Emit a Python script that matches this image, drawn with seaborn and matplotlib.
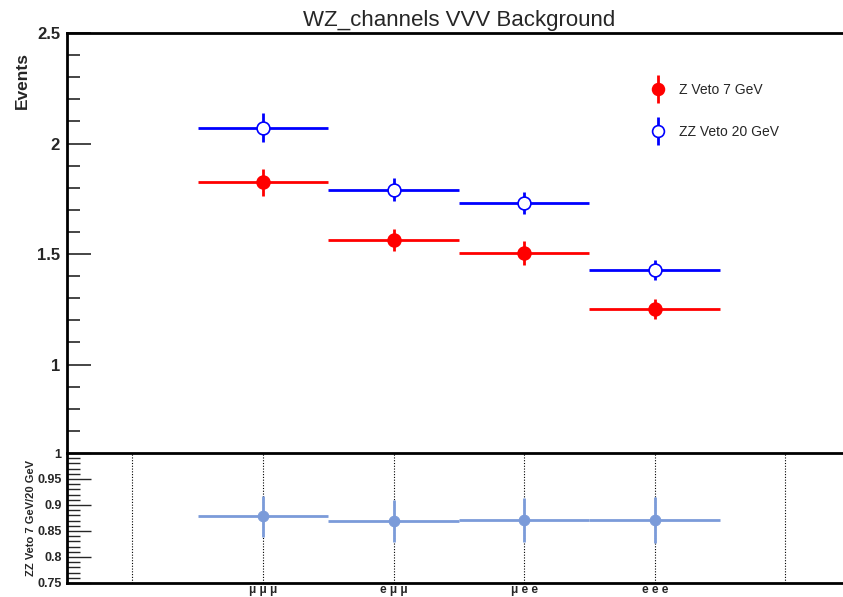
import numpy as np
import pandas as pd
import matplotlib
matplotlib.use("Agg")
import matplotlib.pyplot as plt
from matplotlib.lines import Line2D
from matplotlib.legend_handler import HandlerTuple
import seaborn as sns

channels = ["\u03bc \u03bc \u03bc", "e \u03bc \u03bc", "\u03bc e e", "e e e"]
bins = [1, 2, 3, 4]
zveto7 = [1.825, 1.565, 1.505, 1.250]
zveto7_err = [0.062, 0.050, 0.055, 0.045]
zzveto20 = [2.072, 1.790, 1.730, 1.428]
zzveto20_err = [0.065, 0.052, 0.050, 0.045]
ratio = [0.878, 0.869, 0.871, 0.871]
ratio_err = [0.040, 0.040, 0.042, 0.045]

sns.set_style("white")
plt.rcParams["font.family"] = ["Liberation Sans", "DejaVu Sans"]

fig = plt.figure(figsize=(8.43, 5.97), dpi=100)
ax = fig.add_axes([0.0795, 0.2412, 0.9295, 0.7035])
axr = fig.add_axes([0.0795, 0.0235, 0.9295, 0.2177])

red = "#ff0000"
blue = "#0000ff"
lblue = "#7b9bd9"

df = pd.DataFrame({"bin": bins * 2,
                   "val": zveto7 + zzveto20,
                   "err": zveto7_err + zzveto20_err,
                   "sample": ["Z Veto 7 GeV"] * 4 + ["ZZ Veto 20 GeV"] * 4})

handles = []
for name, col, face in [("Z Veto 7 GeV", red, red), ("ZZ Veto 20 GeV", blue, "white")]:
    d = df[df["sample"] == name]
    ax.errorbar(d["bin"], d["val"], xerr=0.5, yerr=d["err"], fmt="none",
                ecolor=col, elinewidth=2.0, capsize=0, zorder=2)
    sns.scatterplot(x="bin", y="val", data=d, ax=ax, color=face, edgecolor=col,
                    linewidth=1.2, s=85, zorder=3, legend=False)
    bar = Line2D([], [], marker="|", ms=20, mew=2.0, color=col, ls="none")
    dot = Line2D([], [], marker="o", ms=8.5, mfc=face, mec=col, mew=1.2, ls="none")
    handles.append((bar, dot))

ax.legend(handles, ["Z Veto 7 GeV", "ZZ Veto 20 GeV"], loc="upper left",
          handler_map={tuple: HandlerTuple(ndivide=1)},
          bbox_to_anchor=(0.73, 0.91), frameon=False, fontsize=10,
          labelspacing=2.0, handlelength=1.0, handletextpad=1.0)

ax.set_xlim(-0.5, 5.5)
ax.set_ylim(0.6, 2.5)
ax.set_yticks([1, 1.5, 2, 2.5])
ax.set_yticklabels(["1", "1.5", "2", "2.5"], fontweight="bold", fontsize=12)
ax.set_yticks(np.arange(0.7, 2.5, 0.1), minor=True)
ax.set_xticks([])
ax.tick_params(axis="y", which="major", direction="in", length=17, width=1.2, pad=5, left=True)
ax.tick_params(axis="y", which="minor", direction="in", length=9, width=1.2, left=True)
for s in ["right", "bottom"]:
    ax.spines[s].set_visible(False)
for s in ["top", "left"]:
    ax.spines[s].set_linewidth(2)
    ax.spines[s].set_color("black")
ax.set_ylabel("Events", fontweight="bold", fontsize=12.5, ha="right")
ax.yaxis.set_label_coords(-0.048, 0.955)
ax.set_xlabel("")
ax.set_title("WZ_channels VVV Background", fontsize=16, pad=5)

# ratio panel
dr = pd.DataFrame({"bin": bins, "ratio": ratio, "err": ratio_err})
axr.errorbar(dr["bin"], dr["ratio"], xerr=0.5, yerr=dr["err"], fmt="none",
             ecolor=lblue, elinewidth=2.0, capsize=0, zorder=2)
sns.scatterplot(x="bin", y="ratio", data=dr, ax=axr, color=lblue, edgecolor=lblue,
                s=60, zorder=3, legend=False)
for xg in range(0, 6):
    axr.axvline(xg, color="black", ls=(0, (1, 1.5)), lw=0.8, zorder=1)
axr.set_xlim(-0.5, 5.5)
axr.set_ylim(0.75, 1.0)
axr.set_yticks([0.75, 0.8, 0.85, 0.9, 0.95, 1.0])
axr.set_yticklabels(["0.75", "0.8", "0.85", "0.9", "0.95", "1"], fontweight="bold", fontsize=9)
axr.set_yticks(np.arange(0.76, 1.0, 0.01), minor=True)
axr.tick_params(axis="y", which="major", direction="in", length=17, width=1.0, pad=4, left=True)
axr.tick_params(axis="y", which="minor", direction="in", length=9, width=1.0, left=True)
axr.set_xticks(bins)
axr.set_xticklabels(channels, fontsize=8.5, fontweight="bold")
axr.tick_params(axis="x", length=0, pad=0.5)
axr.spines["right"].set_visible(False)
for s in ["top", "left", "bottom"]:
    axr.spines[s].set_linewidth(2)
    axr.spines[s].set_color("black")
axr.set_ylabel("ZZ Veto 7 GeV/20 GeV", fontweight="bold", fontsize=8)
axr.yaxis.set_label_coords(-0.04, 0.5)
axr.set_xlabel("")

fig.savefig("out.png", dpi=100)
